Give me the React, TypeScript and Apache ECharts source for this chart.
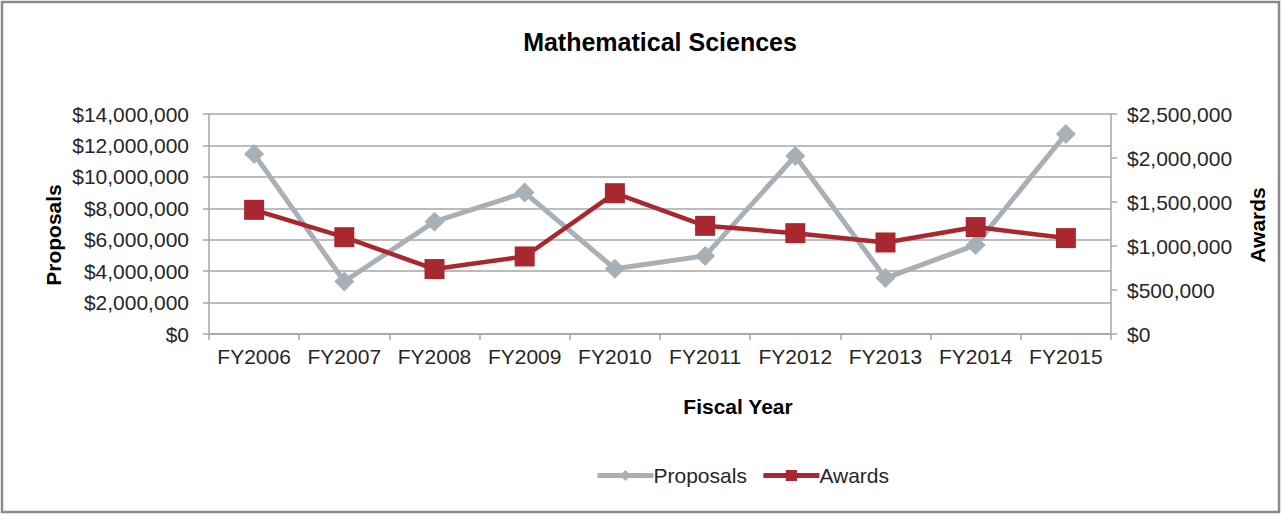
import React, { useEffect, useRef } from "react";
import * as echarts from "echarts";

const categories = ["FY2006", "FY2007", "FY2008", "FY2009", "FY2010", "FY2011", "FY2012", "FY2013", "FY2014", "FY2015"];
const proposals = [11450000, 3340000, 7150000, 9000000, 4150000, 4970000, 11330000, 3560000, 5670000, 12730000];
const awards = [1411000, 1100000, 738000, 881000, 1600000, 1229000, 1146000, 1040000, 1215000, 1090000];
const leftTicks = { min: 0, max: 14000000, interval: 2000000 };
const rightTicks = { min: 0, max: 2500000, interval: 500000 };

const FONT = "'Liberation Sans', Arial, sans-serif";
const money = (v: number) => "$" + Math.round(v).toLocaleString("en-US");

export default function App() {
  const ref = useRef<HTMLDivElement>(null);
  useEffect(() => {
    if (!ref.current) return;
    const chart = echarts.init(ref.current, undefined, { renderer: "svg" });
    const axisLine = { show: true, lineStyle: { color: "#a6a6a6", width: 1.5 } };
    chart.setOption({
      animation: false,
      backgroundColor: "#ffffff",
      textStyle: { fontFamily: FONT },
      grid: { left: 209, right: 170, top: 114, height: 220, containLabel: false },
      xAxis: {
        type: "category",
        data: categories,
        boundaryGap: true,
        axisLine,
        axisTick: { show: true, length: 6, alignWithLabel: false, interval: 0, lineStyle: { color: "#a6a6a6", width: 1.5 } },
        axisLabel: { fontSize: 21, color: "#262626", margin: 12, interval: 0, fontFamily: FONT },
        splitLine: { show: false },
      },
      yAxis: [
        {
          type: "value",
          position: "left",
          min: leftTicks.min,
          max: leftTicks.max,
          interval: leftTicks.interval,
          axisLine,
          axisTick: { show: true, length: 6, lineStyle: { color: "#a6a6a6", width: 1.5 } },
          axisLabel: { fontSize: 21, color: "#262626", margin: 20, formatter: money, fontFamily: FONT },
          splitLine: { show: true, lineStyle: { color: "#a6a6a6", width: 1.5 } },
        },
        {
          type: "value",
          position: "right",
          min: rightTicks.min,
          max: rightTicks.max,
          interval: rightTicks.interval,
          axisLine,
          axisTick: { show: true, length: 6, lineStyle: { color: "#a6a6a6", width: 1.5 } },
          axisLabel: { fontSize: 21, color: "#262626", margin: 16, formatter: money, fontFamily: FONT },
          splitLine: { show: false },
        },
      ],
      legend: {
        left: 590,
        top: 460,
        itemWidth: 56,
        itemHeight: 14,
        itemGap: 14,
        textStyle: { fontSize: 21, color: "#262626", fontFamily: FONT, padding: [0, 0, 0, -5] },
        data: [
          { name: "Proposals", lineStyle: { width: 5 } },
          { name: "Awards", lineStyle: { width: 5 } },
        ],
      },
      series: [
        {
          name: "Proposals",
          type: "line",
          yAxisIndex: 0,
          data: proposals,
          symbol: "diamond",
          symbolSize: 20,
          itemStyle: { color: "#a8b0b7" },
          lineStyle: { color: "#a8b0b7", width: 5 },
          z: 2,
        },
        {
          name: "Awards",
          type: "line",
          yAxisIndex: 1,
          data: awards,
          symbol: "rect",
          symbolSize: 20,
          itemStyle: { color: "#a9272f" },
          lineStyle: { color: "#a9272f", width: 4.5 },
          z: 3,
        },
      ],
      graphic: [
        {
          type: "rect",
          shape: { x: 2, y: 2, width: 1277, height: 510 },
          style: { fill: "none", stroke: "#8a8a8a", lineWidth: 2.5 },
          silent: true,
        },
        {
          type: "text",
          x: 660,
          y: 42,
          style: { text: "Mathematical Sciences", font: `bold 25px ${FONT}`, fill: "#000", align: "center", verticalAlign: "middle" },
        },
        {
          type: "text",
          x: 53,
          y: 235,
          rotation: Math.PI / 2,
          style: { text: "Proposals", font: `bold 21px ${FONT}`, fill: "#000", align: "center", verticalAlign: "middle" },
        },
        {
          type: "text",
          x: 1257,
          y: 225,
          rotation: Math.PI / 2,
          style: { text: "Awards", font: `bold 21px ${FONT}`, fill: "#000", align: "center", verticalAlign: "middle" },
        },
        {
          type: "text",
          x: 738,
          y: 406,
          style: { text: "Fiscal Year", font: `bold 21px ${FONT}`, fill: "#000", align: "center", verticalAlign: "middle" },
        },
      ],
    });
    return () => chart.dispose();
  }, []);
  return <div ref={ref} style={{ position: "fixed", left: 0, top: 0, width: 1281, height: 515 }} />;
}
